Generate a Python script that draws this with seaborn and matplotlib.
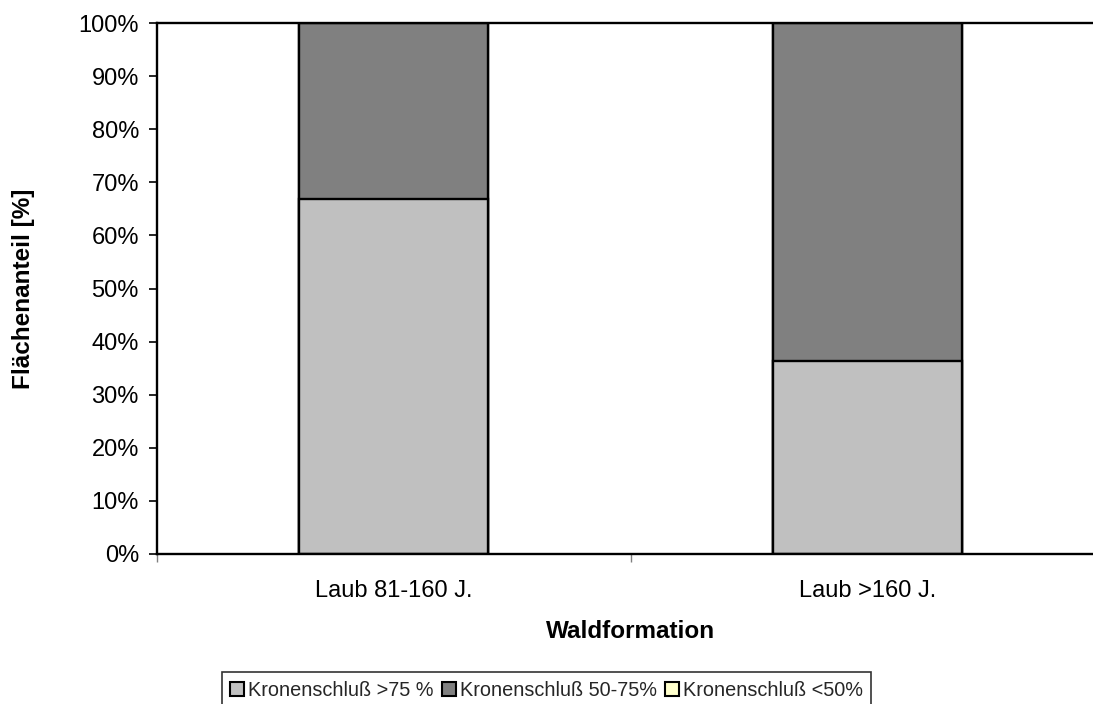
import matplotlib
matplotlib.use("Agg")
import matplotlib.pyplot as plt
from matplotlib.patches import Patch
from matplotlib.ticker import FixedLocator, PercentFormatter
import numpy as np
import pandas as pd
import seaborn as sns

# Data: share of area (%) per crown-closure class for each forest formation
categories = ["Laub 81-160 J.", "Laub >160 J."]
series_names = ["Kronenschluß >75 %", "Kronenschluß 50-75%", "Kronenschluß <50%"]
share_high = [66.8, 36.4]     # Kronenschluß >75 %
share_mid = [33.2, 63.6]      # Kronenschluß 50-75%
share_low = [0.0, 0.0]        # Kronenschluß <50%
colors = ["#C0C0C0", "#808080", "#FFFFCC"]
ytick_values = list(range(0, 101, 10))

sns.set_theme(style="white")
plt.rcParams["font.family"] = ["Liberation Sans", "DejaVu Sans"]

fig = plt.figure(figsize=(10.93, 7.04), dpi=100)
ax = fig.add_axes([157 / 1093, 1 - 554 / 704, (1104 - 157) / 1093, (554 - 23) / 704])

values = np.array([share_high, share_mid, share_low])
cumulative = values.cumsum(axis=0)

# Stacked bars: draw the cumulative totals from the top segment downward
for i in reversed(range(len(series_names))):
    df = pd.DataFrame({"Waldformation": categories, "Anteil": cumulative[i]})
    sns.barplot(data=df, x="Waldformation", y="Anteil", color=colors[i],
                saturation=1, width=0.4, edgecolor="black", linewidth=1.7,
                ax=ax, zorder=2)

ax.set_xlim(-0.5, 1.5)
ax.set_ylim(0, 100)

ax.yaxis.set_major_locator(FixedLocator(ytick_values))
ax.yaxis.set_major_formatter(PercentFormatter(decimals=0))

# Category labels at bar centres, tick marks at category boundaries
ax.set_xticks([-0.5, 0.5, 1.5])
ax.set_xticklabels(["", "", ""])
ax.set_xticks([0, 1], minor=True)
ax.set_xticklabels(categories, minor=True)
ax.tick_params(axis="x", which="major", direction="out", length=6, width=1,
               color="#808080", bottom=True)
ax.tick_params(axis="x", which="minor", length=0, pad=19, labelsize=17,
               labelcolor="black")
ax.tick_params(axis="y", direction="out", length=6, width=1.2, color="black",
               left=True, labelsize=17, labelcolor="black", pad=7)

ax.set_xlabel("Waldformation", fontsize=17.5, fontweight="bold", labelpad=13,
              color="black")
ax.set_ylabel("Flächenanteil [%]", fontsize=17.5, fontweight="bold", labelpad=31,
              color="black")

for side in ["left", "bottom", "top", "right"]:
    ax.spines[side].set_visible(True)
    ax.spines[side].set_color("black")
    ax.spines[side].set_linewidth(1.7)

handles = [Patch(facecolor=c, edgecolor="black", linewidth=1.5) for c in colors]
leg = fig.legend(handles, series_names, loc="upper center",
                 bbox_to_anchor=(0.5, 1 - 672 / 704), ncol=3, fontsize=14.3,
                 frameon=True, fancybox=False, edgecolor="black",
                 handlelength=0.7, handleheight=0.7, handletextpad=0.2,
                 columnspacing=0.4, borderpad=0.45, borderaxespad=0)
leg.get_frame().set_linewidth(1.2)

fig.savefig("out.png", dpi=100)
